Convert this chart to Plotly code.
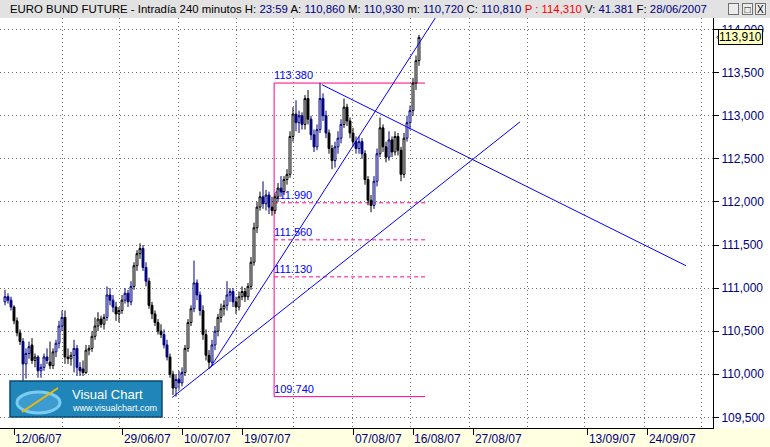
import plotly.graph_objects as go

# 240-minute bars, Euro Bund future
opens = [
    110.84, 110.90, 110.86, 110.78, 110.62, 110.48, 110.38, 110.12, 110.24, 110.34,
    110.16, 110.20, 110.04, 110.08, 110.20, 110.14, 110.10, 110.26, 110.36, 110.56,
    110.66, 110.20, 110.18, 110.22, 110.30, 110.08, 110.06, 110.02, 110.28, 110.30,
    110.44, 110.56, 110.64, 110.58, 110.66, 110.92, 110.86, 110.78, 110.70, 110.74,
    110.86, 110.94, 110.84, 111.02, 111.26, 111.40, 111.46, 111.24, 111.08, 110.80,
    110.70, 110.60, 110.50, 110.46, 110.34, 110.20, 110.00, 109.84, 109.94, 109.90,
    110.02, 110.30, 110.60, 110.76, 111.06, 110.92, 110.74, 110.46, 110.22, 110.14,
    110.34, 110.50, 110.66, 110.76, 110.80, 110.92, 110.96, 110.84, 110.78, 110.90,
    110.96, 110.90, 111.02, 111.30, 111.70, 111.94, 112.06, 111.98, 112.08, 111.94,
    111.90, 112.06, 112.16, 112.12, 112.26, 112.32, 112.76, 113.02, 112.92, 113.00,
    112.90, 113.20, 112.96, 112.78, 112.64, 112.84, 113.20, 113.00, 112.80, 112.62,
    112.48, 112.64, 112.74, 112.90, 113.10, 112.94, 112.80, 112.70, 112.62, 112.70,
    112.56, 112.26, 112.02, 111.96, 112.24, 112.56, 112.86, 112.64, 112.52, 112.72,
    112.58, 112.76, 112.60, 112.32, 112.74, 112.92, 113.06, 113.38, 113.64,
]
highs = [
    110.98, 110.94, 110.90, 110.80, 110.66, 110.52, 110.42, 110.30, 110.38, 110.42,
    110.24, 110.22, 110.12, 110.24, 110.30, 110.38, 110.30, 110.40, 110.62, 110.74,
    110.74, 110.30, 110.26, 110.40, 110.34, 110.14, 110.16, 110.34, 110.34, 110.50,
    110.66, 110.72, 110.68, 110.70, 111.02, 111.00, 110.92, 110.84, 110.78, 110.92,
    111.00, 110.98, 111.08, 111.30, 111.44, 111.52, 111.50, 111.30, 111.12, 110.84,
    110.74, 110.64, 110.58, 110.52, 110.40, 110.24, 110.04, 110.00, 110.04, 110.08,
    110.34, 110.64, 110.80, 111.32, 111.10, 110.96, 110.80, 110.52, 110.28, 110.40,
    110.56, 110.70, 110.82, 110.86, 111.08, 111.00, 111.00, 110.90, 110.96, 111.02,
    111.00, 111.06, 111.36, 111.76, 112.00, 112.12, 112.24, 112.14, 112.12, 112.06,
    112.10, 112.22, 112.30, 112.30, 112.38, 112.82, 113.10, 113.18, 113.06, 113.04,
    113.24, 113.30, 113.00, 112.84, 112.90, 113.38, 113.26, 113.06, 112.84, 112.66,
    112.70, 112.82, 112.96, 113.20, 113.14, 112.98, 112.86, 112.76, 112.76, 112.74,
    112.60, 112.30, 112.08, 112.30, 112.62, 112.98, 112.90, 112.70, 112.82, 112.76,
    112.82, 112.80, 112.64, 112.80, 113.00, 113.12, 113.44, 113.70, 113.94,
]
lows = [
    110.80, 110.82, 110.74, 110.58, 110.44, 110.34, 109.90, 109.95, 110.18, 110.12,
    110.08, 109.96, 109.96, 110.04, 110.12, 110.06, 110.06, 110.20, 110.30, 110.50,
    110.12, 110.12, 110.10, 110.02, 109.98, 109.98, 109.98, 110.00, 110.22, 110.26,
    110.40, 110.50, 110.54, 110.52, 110.62, 110.80, 110.72, 110.62, 110.60, 110.70,
    110.82, 110.78, 110.80, 110.98, 111.20, 111.34, 111.20, 111.02, 110.76, 110.64,
    110.56, 110.46, 110.42, 110.30, 110.16, 109.96, 109.76, 109.74, 109.82, 109.86,
    109.98, 110.26, 110.56, 110.72, 110.86, 110.68, 110.40, 110.16, 110.06, 110.10,
    110.28, 110.44, 110.60, 110.68, 110.74, 110.84, 110.78, 110.70, 110.74, 110.86,
    110.84, 110.86, 110.98, 111.26, 111.64, 111.90, 111.92, 111.90, 111.86, 111.84,
    111.86, 112.00, 112.06, 112.08, 112.20, 112.28, 112.70, 112.82, 112.80, 112.84,
    112.84, 112.90, 112.72, 112.58, 112.60, 112.80, 112.94, 112.74, 112.56, 112.38,
    112.40, 112.56, 112.68, 112.86, 112.88, 112.74, 112.64, 112.56, 112.56, 112.50,
    112.20, 111.96, 111.88, 111.92, 112.18, 112.52, 112.58, 112.46, 112.48, 112.52,
    112.54, 112.54, 112.24, 112.28, 112.70, 112.84, 113.00, 113.30, 113.58,
]
closes = [
    110.90, 110.86, 110.78, 110.62, 110.48, 110.38, 110.12, 110.24, 110.32, 110.16,
    110.20, 110.04, 110.08, 110.20, 110.16, 110.10, 110.26, 110.36, 110.56, 110.66,
    110.20, 110.18, 110.22, 110.30, 110.08, 110.04, 110.02, 110.28, 110.30, 110.44,
    110.56, 110.64, 110.58, 110.66, 110.92, 110.86, 110.78, 110.70, 110.74, 110.86,
    110.94, 110.84, 111.02, 111.26, 111.40, 111.46, 111.24, 111.08, 110.80, 110.70,
    110.60, 110.50, 110.46, 110.34, 110.20, 110.00, 109.84, 109.94, 109.90, 110.02,
    110.30, 110.60, 110.76, 111.06, 110.92, 110.74, 110.46, 110.22, 110.14, 110.34,
    110.50, 110.66, 110.76, 110.80, 110.92, 110.96, 110.84, 110.78, 110.90, 110.96,
    110.90, 111.02, 111.30, 111.70, 111.94, 112.06, 111.98, 112.08, 111.94, 111.90,
    112.06, 112.16, 112.12, 112.26, 112.32, 112.76, 113.02, 112.92, 113.00, 112.90,
    113.20, 112.96, 112.78, 112.64, 112.84, 113.20, 113.00, 112.80, 112.62, 112.48,
    112.64, 112.74, 112.90, 113.10, 112.94, 112.80, 112.70, 112.62, 112.70, 112.56,
    112.26, 112.02, 111.96, 112.24, 112.56, 112.86, 112.64, 112.52, 112.72, 112.58,
    112.76, 112.60, 112.32, 112.74, 112.92, 113.06, 113.38, 113.64, 113.91,
]
# bar group as drawn by the terminal: B = blue bars, K = black bars
groups = (
    "BBBKKKBBBKKBBBBKKBBBKKKBBBKKKKKKKK"
    "BBBKKKBBBKKKBBKKKKKBBKKBBBKKK"
    "BBBKKKBBKKKBBBKKKKKKKKK"
    "BBBKKKBKKKKBBBKKBBBBBBKK"
    "BBBKKKKBBBKKKBBKKKBKKKKKBBKKK"
)

date_labels = ["12/06/07", "29/06/07", "10/07/07", "19/07/07", "07/08/07",
               "16/08/07", "27/08/07", "13/09/07", "24/09/07"]
date_pos = [3, 39.3, 59.3, 79.3, 116.3, 136, 156.3, 194.3, 214.3]
grid_pos = [19, 38.3, 57.7, 77, 96.3, 115.7, 135.3, 154.7, 174, 193.3, 213, 232.3]
price_ticks = [109.5, 110.0, 110.5, 111.0, 111.5, 112.0, 112.5, 113.0, 113.5, 114.0]

# Fibonacci retracement drawn on the chart
fib_x0, fib_x1 = 89.7, 140
fib_levels = [113.38, 111.99, 111.56, 111.13, 109.74]
# trend lines: (bar0, price0, bar1, price1)
trend_lines = [
    (55.7, 109.73, 171.7, 112.93),
    (68.3, 110.07, 143.7, 114.15),
    (105.7, 113.36, 227.0, 111.26),
]
last_price = 113.91

NAVY = "#000080"
PINK = "#FF0088"
LINE_BLUE = "#0000FF"
GRID = "#707070"
FONT = "Liberation Sans, Arial, sans-serif"

fig = go.Figure()

for g, col in (("K", "#000000"), ("B", NAVY)):
    sel = [i for i in range(len(closes)) if groups[i] == g]
    fig.add_trace(go.Candlestick(
        x=sel,
        open=[opens[i] for i in sel],
        high=[highs[i] for i in sel],
        low=[lows[i] for i in sel],
        close=[closes[i] for i in sel],
        increasing=dict(line=dict(color=col, width=1), fillcolor="white"),
        decreasing=dict(line=dict(color=col, width=1), fillcolor=col),
        whiskerwidth=0,
        showlegend=False,
        hoverinfo="skip",
    ))

shapes = []
# fib box
shapes.append(dict(type="line", xref="x", yref="y", x0=fib_x0, x1=fib_x0,
                   y0=fib_levels[-1], y1=fib_levels[0], layer="below",
                   line=dict(color=PINK, width=1)))
for k, lvl in enumerate(fib_levels):
    solid = k in (0, len(fib_levels) - 1)
    shapes.append(dict(
        type="line", xref="x", yref="y", x0=fib_x0, x1=fib_x1, y0=lvl, y1=lvl,
        layer="below",
        line=dict(color=PINK, width=1, dash="solid" if solid else "4px,3px"),
        label=dict(text=f"{lvl:.3f}", textposition="start", yanchor="bottom",
                   font=dict(color=LINE_BLUE, size=11, family=FONT), padding=3),
    ))
for x0, y0, x1, y1 in trend_lines:
    shapes.append(dict(type="line", xref="x", yref="y", x0=x0, y0=y0, x1=x1, y1=y1,
                       layer="above", line=dict(color=LINE_BLUE, width=1)))

# window chrome: title bar and bottom strip
shapes.append(dict(type="rect", xref="paper", yref="paper", x0=-0.01, x1=1.09,
                   y0=1.0, y1=1.05, layer="below", line=dict(width=0),
                   fillcolor="#E2E2E2"))
shapes.append(dict(type="rect", xref="paper", yref="paper", x0=-0.01, x1=1.09,
                   y0=-0.05, y1=0, layer="below", line=dict(width=0),
                   fillcolor="#FFFFE1"))

# Visual Chart logo
lx = lambda px: px / 713
ly = lambda py: (428 - py) / 410
shapes.append(dict(type="rect", xref="paper", yref="paper", x0=lx(10), x1=lx(162),
                   y0=ly(417), y1=ly(381), layer="above",
                   line=dict(color="#0B4A70", width=1.5), fillcolor="#2085B8"))
shapes.append(dict(type="circle", xref="paper", yref="paper", x0=lx(17), x1=lx(60),
                   y0=ly(413), y1=ly(392), layer="above",
                   line=dict(color="#7CCBF2", width=3), fillcolor="rgba(90,180,230,0.5)"))
shapes.append(dict(type="line", xref="paper", yref="paper", x0=lx(22), x1=lx(58),
                   y0=ly(412), y1=ly(388), layer="above",
                   line=dict(color="#F2B700", width=2)))

ann = []
title_html = (
    "EURO BUND FUTURE - Intradía 240 minutos H: "
    f"<span style='color:{NAVY}'>23:59</span> A: "
    f"<span style='color:{NAVY}'>110,860</span> M: "
    f"<span style='color:{NAVY}'>110,930</span> m: "
    f"<span style='color:{NAVY}'>110,720</span> C: "
    f"<span style='color:{NAVY}'>110,810</span> "
    "<span style='color:#FF0000'>P : 114,310</span> V: "
    f"<span style='color:{NAVY}'>41.381</span> F: "
    f"<span style='color:{NAVY}'>28/06/2007</span>"
)
ann.append(dict(xref="paper", yref="paper", x=lx(8), y=1 + 9 / 410, xanchor="left",
                yanchor="middle", text=title_html, showarrow=False,
                font=dict(family=FONT, size=11.4, color="black")))
for px, sym in ((734, "_"), (747, "□"), (760, "X")):
    ann.append(dict(xref="paper", yref="paper", x=lx(px), y=1 + 9 / 410,
                    xanchor="center", yanchor="middle", text=sym, showarrow=False,
                    font=dict(family=FONT, size=10, color="black"),
                    bgcolor="#ECECEC", bordercolor="#707070", borderwidth=1,
                    borderpad=0, width=9, height=10))
ann.append(dict(xref="paper", yref="paper", x=lx(70), y=ly(394), xanchor="left",
                yanchor="middle", text="Visual Chart", showarrow=False,
                font=dict(family=FONT, size=13, color="white")))
ann.append(dict(xref="paper", yref="paper", x=lx(70), y=ly(408), xanchor="left",
                yanchor="middle", text="www.visualchart.com", showarrow=False,
                font=dict(family=FONT, size=9, color="white")))
# last price marker on the price axis
ann.append(dict(xref="paper", yref="y", x=lx(718), y=last_price, xanchor="left",
                yanchor="middle", text=f"{last_price:.3f}".replace(".", ","),
                showarrow=False, font=dict(family=FONT, size=12, color="black"),
                bgcolor="#FFFFC0", bordercolor="black", borderwidth=1, borderpad=0))
ann.append(dict(xref="paper", yref="y", x=lx(714), y=last_price, xanchor="left",
                yanchor="middle", text="‹", showarrow=False,
                font=dict(family=FONT, size=9, color="black")))

fig.update_layout(
    width=770, height=447,
    margin=dict(l=0, r=57, t=18, b=19),
    paper_bgcolor="white", plot_bgcolor="white",
    showlegend=False, boxgap=0.1,
    font=dict(family=FONT, size=12),
    shapes=shapes, annotations=ann,
)
fig.update_xaxes(
    range=[-1.67, 236], tickmode="array", tickvals=date_pos, ticktext=date_labels,
    ticks="outside", ticklen=6, tickcolor="black", ticklabelposition="outside right",
    tickfont=dict(size=12, color=NAVY),
    showgrid=False, zeroline=False, showline=True, linecolor="black", linewidth=1,
    minor=dict(tickmode="array", tickvals=grid_pos, showgrid=True, gridcolor=GRID,
               griddash="1px,3px", gridwidth=1, ticks=""),
    rangeslider_visible=False,
)
fig.update_yaxes(
    side="right", range=[109.376, 114.135], tickmode="array", tickvals=price_ticks,
    ticktext=[f"{v:.3f}".replace(".", ",") for v in price_ticks],
    ticks="outside", ticklen=5, tickcolor="black", tickfont=dict(size=12, color=NAVY),
    showgrid=True, gridcolor=GRID, griddash="1px,3px", gridwidth=1,
    zeroline=False, showline=True, linecolor="black", linewidth=1,
)

# the page's default body margin would shift the figure; drop it
fig.write_html("out.html", config={"displayModeBar": False},
               post_script="document.body.style.margin='0';")
